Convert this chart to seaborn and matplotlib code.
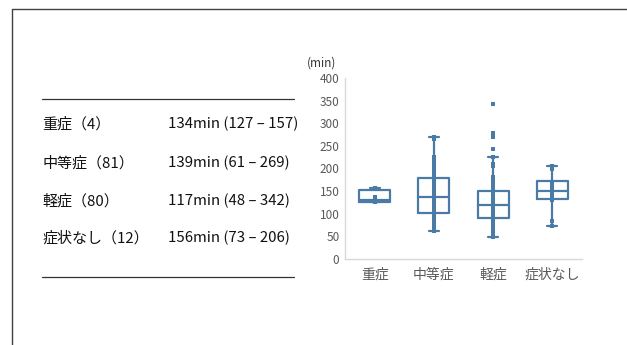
import matplotlib
matplotlib.use("Agg")
import matplotlib.pyplot as plt
from matplotlib.lines import Line2D
import seaborn as sns
import pandas as pd

# ---- data ----
categories = ["重症", "中等症", "軽症", "症状なし"]
table_labels = ["重症（4）", "中等症（81）", "軽症（80）", "症状なし（12）"]
table_values = ["134min (127 – 157)", "139min (61 – 269)", "117min (48 – 342)", "156min (73 – 206)"]

whisker_low = [127, 61, 48, 73]
q1 = [125, 101, 91, 133]
median = [130, 138, 119, 151]
q3 = [153, 180, 150, 172]
whisker_high = [157, 269, 226, 206]

pts_severe = [127, 133, 136, 157]
pts_moderate = [61, 63, 68, 71, 75, 79, 80, 84, 86, 88, 91, 93, 95, 98, 100, 102, 104, 107,
                110, 113, 115, 117, 120, 123, 126, 128, 131, 133, 135, 137, 139, 141, 142,
                145, 148, 151, 153, 156, 158, 161, 164, 166, 169, 171, 174, 176, 179, 181,
                184, 187, 190, 194, 197, 201, 205, 209, 213, 217, 221, 226, 265, 269]
pts_mild = [48, 51, 53, 57, 60, 63, 66, 70, 73, 76, 79, 82, 85, 87, 90, 92, 95, 97, 99, 101,
            104, 106, 108, 110, 112, 114, 116, 117, 119, 121, 123, 125, 127, 129, 131, 134,
            136, 139, 141, 144, 147, 150, 153, 157, 160, 164, 168, 172, 176, 181, 205, 210,
            226, 242, 270, 278, 342]
pts_none = [73, 84, 131, 138, 145, 152, 156, 158, 163, 171, 198, 206]

yticks = [0, 50, 100, 150, 200, 250, 300, 350, 400]

# ---- build ----
sns.set_theme(style="white")
plt.rcParams["font.family"] = ["Noto Sans CJK JP", "DejaVu Sans"]

BLUE = "#4a7aa6"
GRAY = "#595959"

fig = plt.figure(figsize=(6.27, 3.45), dpi=100)
ax = fig.add_axes([345 / 627, (345 - 259) / 345, (582 - 345) / 627, 181 / 345])

df = pd.DataFrame({
    "group": [categories[0]] * len(pts_severe) + [categories[1]] * len(pts_moderate)
             + [categories[2]] * len(pts_mild) + [categories[3]] * len(pts_none),
    "value": pts_severe + pts_moderate + pts_mild + pts_none,
})

stats = []
for i in range(4):
    stats.append(dict(med=median[i], q1=q1[i], q3=q3[i],
                      whislo=whisker_low[i], whishi=whisker_high[i], fliers=[]))

lw = 1.6
ax.bxp(stats, positions=range(4), widths=0.52, showfliers=False, capwidths=0.17,
       boxprops=dict(color=BLUE, linewidth=lw),
       medianprops=dict(color=BLUE, linewidth=lw),
       whiskerprops=dict(color=BLUE, linewidth=lw),
       capprops=dict(color=BLUE, linewidth=lw))

sns.stripplot(data=df, x="group", y="value", order=categories, jitter=False,
              marker="s", size=3.4, color=BLUE, linewidth=0, ax=ax, native_scale=False)

ax.set_xlim(-0.5, 3.5)
ax.set_ylim(0, 400)
ax.set_yticks(yticks)
ax.set_yticklabels([str(t) for t in yticks], fontsize=8.5, color=GRAY)
ax.set_xticks(range(4))
ax.set_xticklabels(categories, fontsize=10, color=GRAY)
ax.tick_params(axis="both", length=0, pad=4)
ax.tick_params(axis="x", pad=6.5)
ax.set_xlabel("")
ax.set_ylabel("")
for s in ["top", "right"]:
    ax.spines[s].set_visible(False)
for s in ["left", "bottom"]:
    ax.spines[s].set_color("#d9d9d9")
    ax.spines[s].set_linewidth(1.0)

fig.text(307 / 627, 1 - 63 / 345, "(min)", fontsize=8.5, color="#333333", va="center", ha="left")

# table on the left
fig.add_artist(Line2D([42 / 627, 294 / 627], [1 - 99 / 345, 1 - 99 / 345], color="#333333", linewidth=0.9))
fig.add_artist(Line2D([42 / 627, 294 / 627], [1 - 277 / 345, 1 - 277 / 345], color="#333333", linewidth=0.9))
row_y = [124, 163, 201, 238]
for lab, val, yy in zip(table_labels, table_values, row_y):
    fig.text(42 / 627, 1 - yy / 345, lab, fontsize=10.8, color="#111111", va="center", ha="left")
    fig.text(168 / 627, 1 - yy / 345, val, fontsize=10.8, color="#111111", va="center", ha="left")

# frame lines
fig.add_artist(Line2D([12 / 627, 1.0], [1 - 9 / 345, 1 - 9 / 345], color="#404040", linewidth=1.0))
fig.add_artist(Line2D([12 / 627, 12 / 627], [0, 1 - 9 / 345], color="#404040", linewidth=1.0))

fig.savefig("out.png", dpi=100)
